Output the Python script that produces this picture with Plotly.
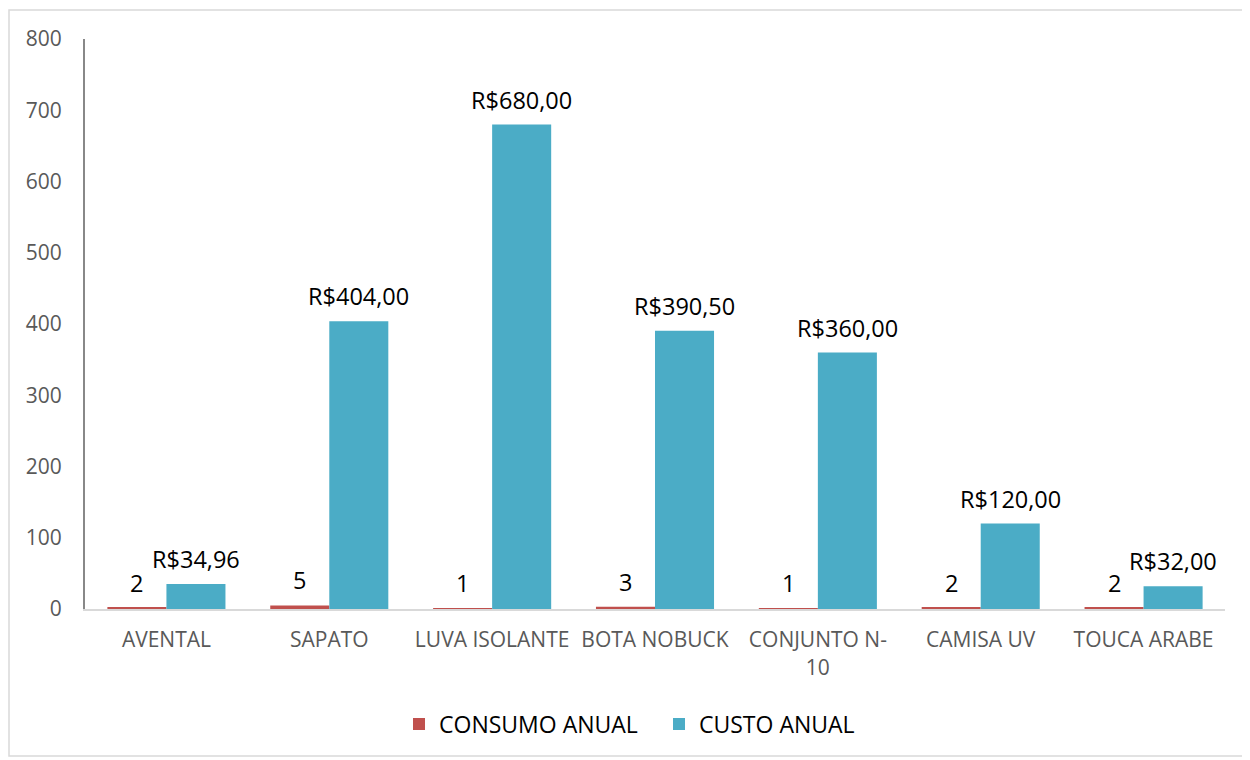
import plotly.graph_objects as go

categories = ["AVENTAL", "SAPATO", "LUVA ISOLANTE", "BOTA NOBUCK", "CONJUNTO N-10", "CAMISA UV", "TOUCA ARABE"]
tick_labels = ["AVENTAL", "SAPATO", "LUVA ISOLANTE", "BOTA NOBUCK", "CONJUNTO N-<br>10", "CAMISA UV", "TOUCA ARABE"]
consumo_anual = [2, 5, 1, 3, 1, 2, 2]
custo_anual = [34.96, 404.00, 680.00, 390.50, 360.00, 120.00, 32.00]

# page body has an 8px margin; figure coordinates = reference pixel - 8
OFF = 8
W, H = 1242, 752
ml, mr, mt, mb = 85 - OFF, 25, 39 - OFF, 151
pw, ph = W - ml - mr, H - mt - mb
bargap = 0.275
bar_px = pw / len(categories) * (1 - bargap) / 2

font = "Open Sans, Lato, sans-serif"

fig = go.Figure()
fig.add_trace(go.Bar(name="CONSUMO ANUAL", x=categories, y=consumo_anual,
                     marker=dict(color="#C0504D", line=dict(width=0))))
fig.add_trace(go.Bar(name="CUSTO ANUAL", x=categories, y=custo_anual,
                     marker=dict(color="#4BACC6", line=dict(width=0))))

annotations = []
for c, v in zip(categories, consumo_anual):
    annotations.append(dict(x=c, y=v, xref="x", yref="y", text=str(v), showarrow=False,
                            xshift=-bar_px / 2, yshift=7, yanchor="bottom",
                            font=dict(size=23.5, color="black", family=font)))
for c, v in zip(categories, custo_anual):
    annotations.append(dict(x=c, y=v, xref="x", yref="y",
                            text="R$" + f"{v:.2f}".replace(".", ","), showarrow=False,
                            xshift=bar_px / 2, yshift=7, yanchor="bottom",
                            font=dict(size=23.5, color="black", family=font)))

def px_x(p):
    return (p - OFF - ml) / pw

def px_y(p):
    return (H - mb - (p - OFF)) / ph

fig.update_layout(
    width=W, height=H,
    margin=dict(l=ml, r=mr, t=mt, b=mb),
    barmode="group", bargap=bargap, bargroupgap=0,
    plot_bgcolor="white", paper_bgcolor="white",
    font=dict(family=font, color="#595959", size=21),
    showlegend=True,
    legend=dict(orientation="h", x=px_x(659), xanchor="center", y=px_y(724), yanchor="middle",
                font=dict(size=23, color="black", family=font),
                traceorder="normal", entrywidth=215),
    xaxis=dict(tickmode="array", tickvals=categories, ticktext=tick_labels,
               showline=True, linecolor="#D9D9D9", linewidth=2, ticks="",
               tickfont=dict(size=21, color="#595959"), showgrid=False,
               ticklabelstandoff=11),
    yaxis=dict(range=[0, 800], dtick=100, showgrid=False, zeroline=False,
               showline=True, linecolor="#888888", linewidth=2, ticks="",
               tickfont=dict(size=21, color="#595959"), ticklabelstandoff=17),
    annotations=annotations,
    shapes=[dict(type="rect", xref="paper", yref="paper",
                 x0=px_x(9), x1=px_x(1244), y0=px_y(10), y1=px_y(756),
                 line=dict(color="#D9D9D9", width=1.5), fillcolor="rgba(0,0,0,0)", layer="below")],
)

fig.write_html("out.html")
